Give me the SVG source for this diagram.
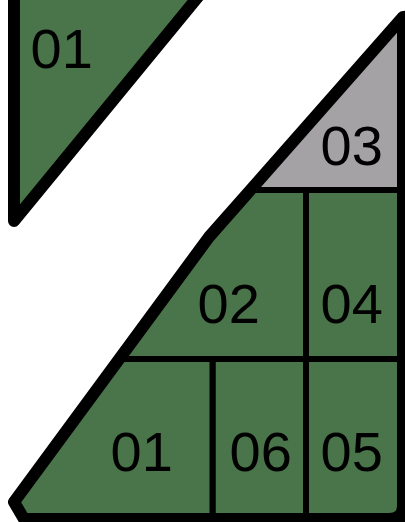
<svg xmlns="http://www.w3.org/2000/svg" width="405" height="522" viewBox="0 0 405 522">
<style>
.g{fill:#4A754A;stroke:#000;stroke-width:6;stroke-linejoin:miter}
.gr{fill:#A4A2A5;stroke:#000;stroke-width:6}
.ol{fill:none;stroke:#000;stroke-width:12;stroke-linejoin:round;stroke-linecap:round}
.t{font-family:"Liberation Sans",Arial,sans-serif;font-size:56px;fill:#000}
</style>
<rect width="405" height="522" fill="#fff"/>
<g id="piece-01-top">
<path d="M14,-30 L14,221 L220,-30 Z" fill="#4A754A" stroke="#000" stroke-width="12" stroke-linejoin="round"/>
<text class="t" x="30.6" y="68">01</text>
</g>
<g id="piece-03">
<polygon class="gr" points="403,17 250.4,190 403,190"/>
<text class="t" x="320.6" y="165">03</text>
</g>
<g id="piece-04">
<polygon class="g" points="306,190 403,190 403,359 306,359"/>
<text class="t" x="320.6" y="323">04</text>
</g>
<g id="piece-02">
<polygon class="g" points="250.4,190 306,190 306,359 119.1,359 209,237"/>
<text class="t" x="197.6" y="323">02</text>
</g>
<g id="piece-05">
<polygon class="g" points="306,359 403,359 403,519 306,519"/>
<text class="t" x="320.6" y="471">05</text>
</g>
<g id="piece-06">
<polygon class="g" points="212.5,359 306,359 306,519 212.5,519"/>
<text class="t" x="229.6" y="471">06</text>
</g>
<g id="piece-01">
<polygon class="g" points="119.1,359 212.5,359 212.5,519 24,519 14,502"/>
<text class="t" x="110.6" y="471">01</text>
</g>
<g id="outline">
<path class="ol" d="M403,17 L209,237 L14,502 L24,519 L389,519 Q403,519 403,505 Z"/>
</g>
</svg>
